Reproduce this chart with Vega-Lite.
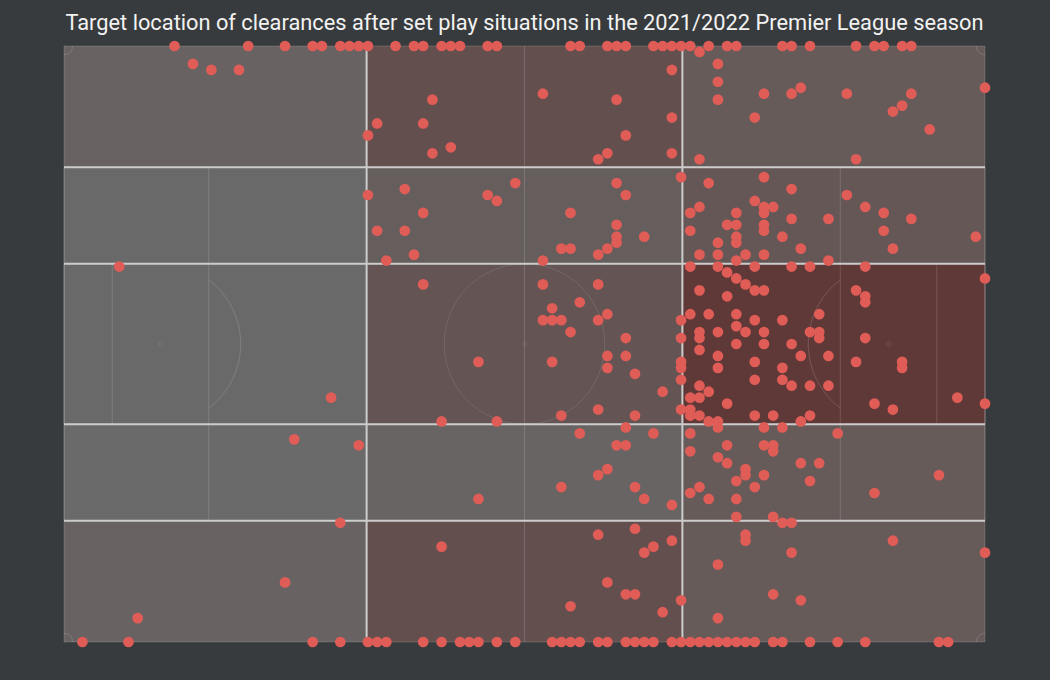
{
  "$schema": "https://vega.github.io/schema/vega-lite/v6.json",
  "width": 921,
  "height": 596,
  "autosize": {"type": "none"},
  "padding": {"left": 64, "top": 46, "right": 65, "bottom": 38},
  "background": "#383b3d",
  "config": {"view": {"stroke": null}},
  "title": {
    "text": "Target location of clearances after set play situations in the 2021/2022 Premier League season",
    "font": "Roboto",
    "fontSize": 21.8,
    "fontWeight": "normal",
    "color": "#f2f2f2",
    "anchor": "middle",
    "frame": "group",
    "baseline": "alphabetic",
    "offset": 11,
    "dy": 22
  },
  "datasets": {
    "zones": [
      {"zone": "c1r1", "x": 0, "x2": 32.857, "y": 0, "y2": 20.353},
      {"zone": "c1r2", "x": 0, "x2": 32.857, "y": 20.353, "y2": 36.53},
      {"zone": "c1r3", "x": 0, "x2": 32.857, "y": 36.53, "y2": 63.47},
      {"zone": "c1r4", "x": 0, "x2": 32.857, "y": 63.47, "y2": 79.647},
      {"zone": "c1r5", "x": 0, "x2": 32.857, "y": 79.647, "y2": 100},
      {"zone": "c2r1", "x": 32.857, "x2": 67.143, "y": 0, "y2": 20.353},
      {"zone": "c2r2", "x": 32.857, "x2": 67.143, "y": 20.353, "y2": 36.53},
      {"zone": "c2r3", "x": 32.857, "x2": 67.143, "y": 36.53, "y2": 63.47},
      {"zone": "c2r4", "x": 32.857, "x2": 67.143, "y": 63.47, "y2": 79.647},
      {"zone": "c2r5", "x": 32.857, "x2": 67.143, "y": 79.647, "y2": 100},
      {"zone": "c3r1", "x": 67.143, "x2": 100, "y": 0, "y2": 20.353},
      {"zone": "c3r2", "x": 67.143, "x2": 100, "y": 20.353, "y2": 36.53},
      {"zone": "c3r3", "x": 67.143, "x2": 100, "y": 36.53, "y2": 63.47},
      {"zone": "c3r4", "x": 67.143, "x2": 100, "y": 63.47, "y2": 79.647},
      {"zone": "c3r5", "x": 67.143, "x2": 100, "y": 79.647, "y2": 100}
    ],
    "boxes": [
      {"x": 0, "x2": 100, "y": 0, "y2": 100},
      {"x": 0, "x2": 15.714, "y": 20.353, "y2": 79.647},
      {"x": 84.286, "x2": 100, "y": 20.353, "y2": 79.647},
      {"x": 0, "x2": 5.238, "y": 36.53, "y2": 63.47},
      {"x": 94.762, "x2": 100, "y": 36.53, "y2": 63.47}
    ],
    "spots": [
      {"x": 10.476, "y": 50},
      {"x": 89.524, "y": 50},
      {"x": 50, "y": 50}
    ],
    "arcs": [
      {"arc": "L", "i": 0, "x": 15.705, "y": 39.235},
      {"arc": "L", "i": 1, "x": 16.638, "y": 40.485},
      {"arc": "L", "i": 2, "x": 17.614, "y": 42.282},
      {"arc": "L", "i": 3, "x": 18.374, "y": 44.313},
      {"arc": "L", "i": 4, "x": 18.893, "y": 46.517},
      {"arc": "L", "i": 5, "x": 19.157, "y": 48.827},
      {"arc": "L", "i": 6, "x": 19.19, "y": 50},
      {"arc": "L", "i": 7, "x": 19.157, "y": 51.173},
      {"arc": "L", "i": 8, "x": 18.893, "y": 53.483},
      {"arc": "L", "i": 9, "x": 18.374, "y": 55.687},
      {"arc": "L", "i": 10, "x": 17.614, "y": 57.718},
      {"arc": "L", "i": 11, "x": 16.638, "y": 59.515},
      {"arc": "L", "i": 12, "x": 15.705, "y": 60.765},
      {"arc": "R", "i": 0, "x": 84.295, "y": 39.235},
      {"arc": "R", "i": 1, "x": 83.362, "y": 40.485},
      {"arc": "R", "i": 2, "x": 82.386, "y": 42.282},
      {"arc": "R", "i": 3, "x": 81.626, "y": 44.313},
      {"arc": "R", "i": 4, "x": 81.107, "y": 46.517},
      {"arc": "R", "i": 5, "x": 80.843, "y": 48.827},
      {"arc": "R", "i": 6, "x": 80.81, "y": 50},
      {"arc": "R", "i": 7, "x": 80.843, "y": 51.173},
      {"arc": "R", "i": 8, "x": 81.107, "y": 53.483},
      {"arc": "R", "i": 9, "x": 81.626, "y": 55.687},
      {"arc": "R", "i": 10, "x": 82.386, "y": 57.718},
      {"arc": "R", "i": 11, "x": 83.362, "y": 59.515},
      {"arc": "R", "i": 12, "x": 84.295, "y": 60.765},
      {"arc": "TL", "i": 0, "x": 0.952, "y": 0},
      {"arc": "TL", "i": 1, "x": 0.825, "y": 0.735},
      {"arc": "TL", "i": 2, "x": 0.673, "y": 1.04},
      {"arc": "TL", "i": 3, "x": 0.476, "y": 1.274},
      {"arc": "TL", "i": 4, "x": 0, "y": 1.471},
      {"arc": "TR", "i": 0, "x": 99.048, "y": 0},
      {"arc": "TR", "i": 1, "x": 99.175, "y": 0.735},
      {"arc": "TR", "i": 2, "x": 99.327, "y": 1.04},
      {"arc": "TR", "i": 3, "x": 99.524, "y": 1.274},
      {"arc": "TR", "i": 4, "x": 100, "y": 1.471},
      {"arc": "BL", "i": 0, "x": 0.952, "y": 100},
      {"arc": "BL", "i": 1, "x": 0.825, "y": 99.265},
      {"arc": "BL", "i": 2, "x": 0.673, "y": 98.96},
      {"arc": "BL", "i": 3, "x": 0.476, "y": 98.726},
      {"arc": "BL", "i": 4, "x": 0, "y": 98.529},
      {"arc": "BR", "i": 0, "x": 99.048, "y": 100},
      {"arc": "BR", "i": 1, "x": 99.175, "y": 99.265},
      {"arc": "BR", "i": 2, "x": 99.327, "y": 98.96},
      {"arc": "BR", "i": 3, "x": 99.524, "y": 98.726},
      {"arc": "BR", "i": 4, "x": 100, "y": 98.529}
    ],
    "vlines": [{"x": 32.857}, {"x": 67.143}],
    "hlines": [{"y": 20.353}, {"y": 36.53}, {"y": 63.47}, {"y": 79.647}],
    "clearances": [
      {"x": 12, "y": 0}, {"x": 20, "y": 0}, {"x": 24, "y": 0}, {"x": 27, "y": 0}, {"x": 28, "y": 0},
      {"x": 30, "y": 0}, {"x": 31, "y": 0}, {"x": 32, "y": 0}, {"x": 33, "y": 0}, {"x": 36, "y": 0},
      {"x": 38, "y": 0}, {"x": 39, "y": 0}, {"x": 41, "y": 0}, {"x": 42, "y": 0}, {"x": 43, "y": 0},
      {"x": 46, "y": 0}, {"x": 47, "y": 0}, {"x": 55, "y": 0}, {"x": 56, "y": 0}, {"x": 59, "y": 0},
      {"x": 60, "y": 0}, {"x": 61, "y": 0}, {"x": 64, "y": 0}, {"x": 65, "y": 0}, {"x": 66, "y": 0},
      {"x": 67, "y": 0}, {"x": 68, "y": 0}, {"x": 70, "y": 0}, {"x": 72, "y": 0}, {"x": 73, "y": 0},
      {"x": 78, "y": 0}, {"x": 79, "y": 0}, {"x": 81, "y": 0}, {"x": 86, "y": 0}, {"x": 88, "y": 0},
      {"x": 89, "y": 0}, {"x": 91, "y": 0}, {"x": 92, "y": 0},
      {"x": 2, "y": 100}, {"x": 7, "y": 100}, {"x": 27, "y": 100}, {"x": 30, "y": 100}, {"x": 33, "y": 100},
      {"x": 34, "y": 100}, {"x": 35, "y": 100}, {"x": 39, "y": 100}, {"x": 41, "y": 100}, {"x": 43, "y": 100},
      {"x": 44, "y": 100}, {"x": 45, "y": 100}, {"x": 47, "y": 100}, {"x": 49, "y": 100}, {"x": 53, "y": 100},
      {"x": 54, "y": 100}, {"x": 55, "y": 100}, {"x": 56, "y": 100}, {"x": 58, "y": 100}, {"x": 59, "y": 100},
      {"x": 61, "y": 100}, {"x": 62, "y": 100}, {"x": 63, "y": 100}, {"x": 64, "y": 100}, {"x": 66, "y": 100},
      {"x": 67, "y": 100}, {"x": 68, "y": 100}, {"x": 69, "y": 100}, {"x": 70, "y": 100}, {"x": 71, "y": 100},
      {"x": 72, "y": 100}, {"x": 73, "y": 100}, {"x": 74, "y": 100}, {"x": 75, "y": 100}, {"x": 77, "y": 100},
      {"x": 78, "y": 100}, {"x": 81, "y": 100}, {"x": 84, "y": 100}, {"x": 87, "y": 100}, {"x": 95, "y": 100},
      {"x": 96, "y": 100},
      {"x": 14, "y": 3}, {"x": 16, "y": 4}, {"x": 19, "y": 4}, {"x": 6, "y": 37}, {"x": 25, "y": 66},
      {"x": 24, "y": 90}, {"x": 8, "y": 96},
      {"x": 40, "y": 9}, {"x": 34, "y": 13}, {"x": 39, "y": 13}, {"x": 33, "y": 15}, {"x": 42, "y": 17},
      {"x": 40, "y": 18}, {"x": 49, "y": 23}, {"x": 37, "y": 24}, {"x": 33, "y": 25}, {"x": 46, "y": 25},
      {"x": 47, "y": 26}, {"x": 39, "y": 28}, {"x": 34, "y": 31}, {"x": 37, "y": 31}, {"x": 38, "y": 35},
      {"x": 35, "y": 36}, {"x": 39, "y": 40},
      {"x": 45, "y": 53}, {"x": 29, "y": 59}, {"x": 41, "y": 63}, {"x": 47, "y": 63}, {"x": 32, "y": 67},
      {"x": 45, "y": 76}, {"x": 30, "y": 80}, {"x": 41, "y": 84},
      {"x": 69, "y": 1}, {"x": 71, "y": 3}, {"x": 66, "y": 4}, {"x": 71, "y": 6}, {"x": 52, "y": 8},
      {"x": 60, "y": 9}, {"x": 71, "y": 9}, {"x": 66, "y": 12}, {"x": 75, "y": 12}, {"x": 61, "y": 15},
      {"x": 59, "y": 18}, {"x": 66, "y": 18}, {"x": 58, "y": 19}, {"x": 69, "y": 19}, {"x": 67, "y": 22},
      {"x": 60, "y": 23}, {"x": 70, "y": 23}, {"x": 61, "y": 25}, {"x": 75, "y": 26}, {"x": 69, "y": 27},
      {"x": 55, "y": 28}, {"x": 68, "y": 28}, {"x": 73, "y": 28}, {"x": 60, "y": 30}, {"x": 72, "y": 30},
      {"x": 73, "y": 30}, {"x": 68, "y": 31}, {"x": 60, "y": 32}, {"x": 63, "y": 32}, {"x": 73, "y": 32},
      {"x": 60, "y": 33}, {"x": 71, "y": 33}, {"x": 73, "y": 33}, {"x": 54, "y": 34}, {"x": 55, "y": 34},
      {"x": 59, "y": 34}, {"x": 58, "y": 35}, {"x": 69, "y": 35}, {"x": 71, "y": 35}, {"x": 74, "y": 35},
      {"x": 52, "y": 36}, {"x": 73, "y": 36}, {"x": 68, "y": 37}, {"x": 71, "y": 37}, {"x": 75, "y": 37},
      {"x": 72, "y": 38}, {"x": 73, "y": 39}, {"x": 74, "y": 40}, {"x": 52, "y": 40}, {"x": 58, "y": 40},
      {"x": 69, "y": 41}, {"x": 75, "y": 41}, {"x": 72, "y": 42}, {"x": 56, "y": 43}, {"x": 53, "y": 44},
      {"x": 52, "y": 46}, {"x": 53, "y": 46}, {"x": 54, "y": 46}, {"x": 58, "y": 46}, {"x": 59, "y": 45},
      {"x": 67, "y": 46}, {"x": 68, "y": 45}, {"x": 70, "y": 45}, {"x": 73, "y": 45}, {"x": 75, "y": 46},
      {"x": 73, "y": 47}, {"x": 55, "y": 48}, {"x": 69, "y": 48}, {"x": 71, "y": 48}, {"x": 74, "y": 48},
      {"x": 61, "y": 49}, {"x": 67, "y": 49}, {"x": 69, "y": 49}, {"x": 73, "y": 50},
      {"x": 69, "y": 51}, {"x": 59, "y": 52}, {"x": 61, "y": 52}, {"x": 71, "y": 52}, {"x": 53, "y": 53},
      {"x": 67, "y": 53}, {"x": 75, "y": 53}, {"x": 59, "y": 54}, {"x": 67, "y": 54}, {"x": 71, "y": 54},
      {"x": 62, "y": 55}, {"x": 67, "y": 56}, {"x": 75, "y": 56}, {"x": 69, "y": 57}, {"x": 65, "y": 58},
      {"x": 70, "y": 58}, {"x": 68, "y": 59}, {"x": 69, "y": 59}, {"x": 72, "y": 60}, {"x": 58, "y": 61},
      {"x": 67, "y": 61}, {"x": 68, "y": 61}, {"x": 54, "y": 62}, {"x": 62, "y": 62}, {"x": 68, "y": 62},
      {"x": 69, "y": 62}, {"x": 75, "y": 62}, {"x": 70, "y": 63}, {"x": 71, "y": 63}, {"x": 71, "y": 64},
      {"x": 61, "y": 64}, {"x": 56, "y": 65}, {"x": 64, "y": 65}, {"x": 68, "y": 65}, {"x": 60, "y": 67},
      {"x": 61, "y": 67}, {"x": 72, "y": 67}, {"x": 68, "y": 68}, {"x": 71, "y": 69}, {"x": 72, "y": 70},
      {"x": 59, "y": 71}, {"x": 74, "y": 71}, {"x": 58, "y": 72}, {"x": 74, "y": 72}, {"x": 73, "y": 73},
      {"x": 54, "y": 74}, {"x": 62, "y": 74}, {"x": 69, "y": 74}, {"x": 75, "y": 74}, {"x": 68, "y": 75},
      {"x": 63, "y": 76}, {"x": 70, "y": 76}, {"x": 73, "y": 76}, {"x": 66, "y": 77}, {"x": 73, "y": 79},
      {"x": 62, "y": 81}, {"x": 58, "y": 82}, {"x": 74, "y": 82}, {"x": 66, "y": 83}, {"x": 74, "y": 83},
      {"x": 64, "y": 84}, {"x": 63, "y": 85}, {"x": 71, "y": 87}, {"x": 59, "y": 90}, {"x": 61, "y": 92},
      {"x": 62, "y": 92}, {"x": 67, "y": 93}, {"x": 55, "y": 94}, {"x": 65, "y": 95}, {"x": 71, "y": 96},
      {"x": 100, "y": 7}, {"x": 76, "y": 8}, {"x": 79, "y": 8}, {"x": 80, "y": 7}, {"x": 85, "y": 8},
      {"x": 92, "y": 8}, {"x": 91, "y": 10}, {"x": 90, "y": 11}, {"x": 94, "y": 14}, {"x": 86, "y": 19},
      {"x": 76, "y": 22}, {"x": 79, "y": 24}, {"x": 85, "y": 25}, {"x": 76, "y": 27}, {"x": 77, "y": 27},
      {"x": 76, "y": 28}, {"x": 87, "y": 27}, {"x": 89, "y": 28}, {"x": 79, "y": 29}, {"x": 83, "y": 29},
      {"x": 92, "y": 29}, {"x": 76, "y": 30}, {"x": 76, "y": 31}, {"x": 89, "y": 31}, {"x": 78, "y": 32},
      {"x": 99, "y": 32}, {"x": 80, "y": 34}, {"x": 90, "y": 34}, {"x": 76, "y": 35}, {"x": 83, "y": 36},
      {"x": 79, "y": 37}, {"x": 81, "y": 37}, {"x": 87, "y": 37}, {"x": 100, "y": 39}, {"x": 76, "y": 41},
      {"x": 86, "y": 41}, {"x": 87, "y": 42}, {"x": 87, "y": 43}, {"x": 82, "y": 45}, {"x": 78, "y": 46},
      {"x": 76, "y": 48}, {"x": 81, "y": 48}, {"x": 82, "y": 48}, {"x": 82, "y": 49}, {"x": 87, "y": 49},
      {"x": 76, "y": 50}, {"x": 79, "y": 50},
      {"x": 80, "y": 52}, {"x": 83, "y": 52}, {"x": 78, "y": 54}, {"x": 86, "y": 53}, {"x": 91, "y": 53},
      {"x": 91, "y": 54}, {"x": 78, "y": 56}, {"x": 79, "y": 57}, {"x": 81, "y": 57}, {"x": 83, "y": 57},
      {"x": 97, "y": 59}, {"x": 100, "y": 60}, {"x": 88, "y": 60}, {"x": 90, "y": 61}, {"x": 77, "y": 62},
      {"x": 81, "y": 62}, {"x": 80, "y": 63}, {"x": 76, "y": 64}, {"x": 78, "y": 64}, {"x": 84, "y": 65},
      {"x": 76, "y": 67}, {"x": 77, "y": 67}, {"x": 77, "y": 68}, {"x": 80, "y": 70}, {"x": 82, "y": 70},
      {"x": 76, "y": 72}, {"x": 95, "y": 72}, {"x": 81, "y": 73}, {"x": 88, "y": 75}, {"x": 77, "y": 79},
      {"x": 78, "y": 80}, {"x": 79, "y": 80}, {"x": 90, "y": 83}, {"x": 100, "y": 85}, {"x": 79, "y": 85},
      {"x": 77, "y": 92}, {"x": 80, "y": 93}
    ]
  },
  "layer": [
    {
      "data": {"name": "zones"},
      "mark": {"type": "rect", "strokeWidth": 0},
      "encoding": {
        "x": {"field": "x", "type": "quantitative", "scale": {"domain": [0, 100], "nice": false, "zero": false}, "axis": null},
        "x2": {"field": "x2"},
        "y": {"field": "y", "type": "quantitative", "scale": {"domain": [0, 100], "nice": false, "zero": false, "reverse": true}, "axis": null},
        "y2": {"field": "y2"},
        "color": {
          "field": "zone", "type": "nominal", "legend": null,
          "scale": {
            "domain": ["c1r1", "c1r2", "c1r3", "c1r4", "c1r5", "c2r1", "c2r2", "c2r3", "c2r4", "c2r5", "c3r1", "c3r2", "c3r3", "c3r4", "c3r5"],
            "range": ["#686362", "#696969", "#696969", "#6a6a6a", "#686362", "#634f4e", "#665e5d", "#645554", "#686463", "#634f4e", "#675b5a", "#655756", "#5f3937", "#675b5a", "#675b5a"]
          }
        }
      }
    },
    {
      "data": {"name": "boxes"},
      "mark": {"type": "rect", "filled": false, "stroke": "#ffffff", "strokeOpacity": 0.15, "strokeWidth": 1},
      "encoding": {
        "x": {"field": "x", "type": "quantitative"},
        "x2": {"field": "x2"},
        "y": {"field": "y", "type": "quantitative"},
        "y2": {"field": "y2"}
      }
    },
    {
      "data": {"values": [{"x": 50}]},
      "mark": {"type": "rule", "stroke": "#ffffff", "strokeOpacity": 0.15, "strokeWidth": 1},
      "encoding": {"x": {"field": "x", "type": "quantitative"}}
    },
    {
      "data": {"name": "arcs"},
      "mark": {"type": "line", "stroke": "#ffffff", "strokeOpacity": 0.15, "strokeWidth": 1, "interpolate": "catmull-rom"},
      "encoding": {
        "x": {"field": "x", "type": "quantitative"},
        "y": {"field": "y", "type": "quantitative"},
        "detail": {"field": "arc", "type": "nominal"},
        "order": {"field": "i", "type": "quantitative"}
      }
    },
    {
      "data": {"values": [{"x": 50, "y": 50}]},
      "mark": {"type": "point", "shape": "circle", "filled": false, "size": 25760, "stroke": "#ffffff", "strokeOpacity": 0.15, "strokeWidth": 1},
      "encoding": {
        "x": {"field": "x", "type": "quantitative"},
        "y": {"field": "y", "type": "quantitative"}
      }
    },
    {
      "data": {"name": "spots"},
      "mark": {"type": "point", "shape": "circle", "filled": false, "size": 18, "stroke": "#ffffff", "strokeOpacity": 0.15, "strokeWidth": 1},
      "encoding": {
        "x": {"field": "x", "type": "quantitative"},
        "y": {"field": "y", "type": "quantitative"}
      }
    },
    {
      "data": {"name": "vlines"},
      "mark": {"type": "rule", "stroke": "#cccccc", "strokeWidth": 2},
      "encoding": {"x": {"field": "x", "type": "quantitative"}}
    },
    {
      "data": {"name": "hlines"},
      "mark": {"type": "rule", "stroke": "#cccccc", "strokeWidth": 2},
      "encoding": {"y": {"field": "y", "type": "quantitative"}}
    },
    {
      "data": {"name": "clearances"},
      "mark": {"type": "circle", "size": 115, "color": "#e05c57", "opacity": 1},
      "encoding": {
        "x": {"field": "x", "type": "quantitative"},
        "y": {"field": "y", "type": "quantitative"}
      }
    }
  ]
}
